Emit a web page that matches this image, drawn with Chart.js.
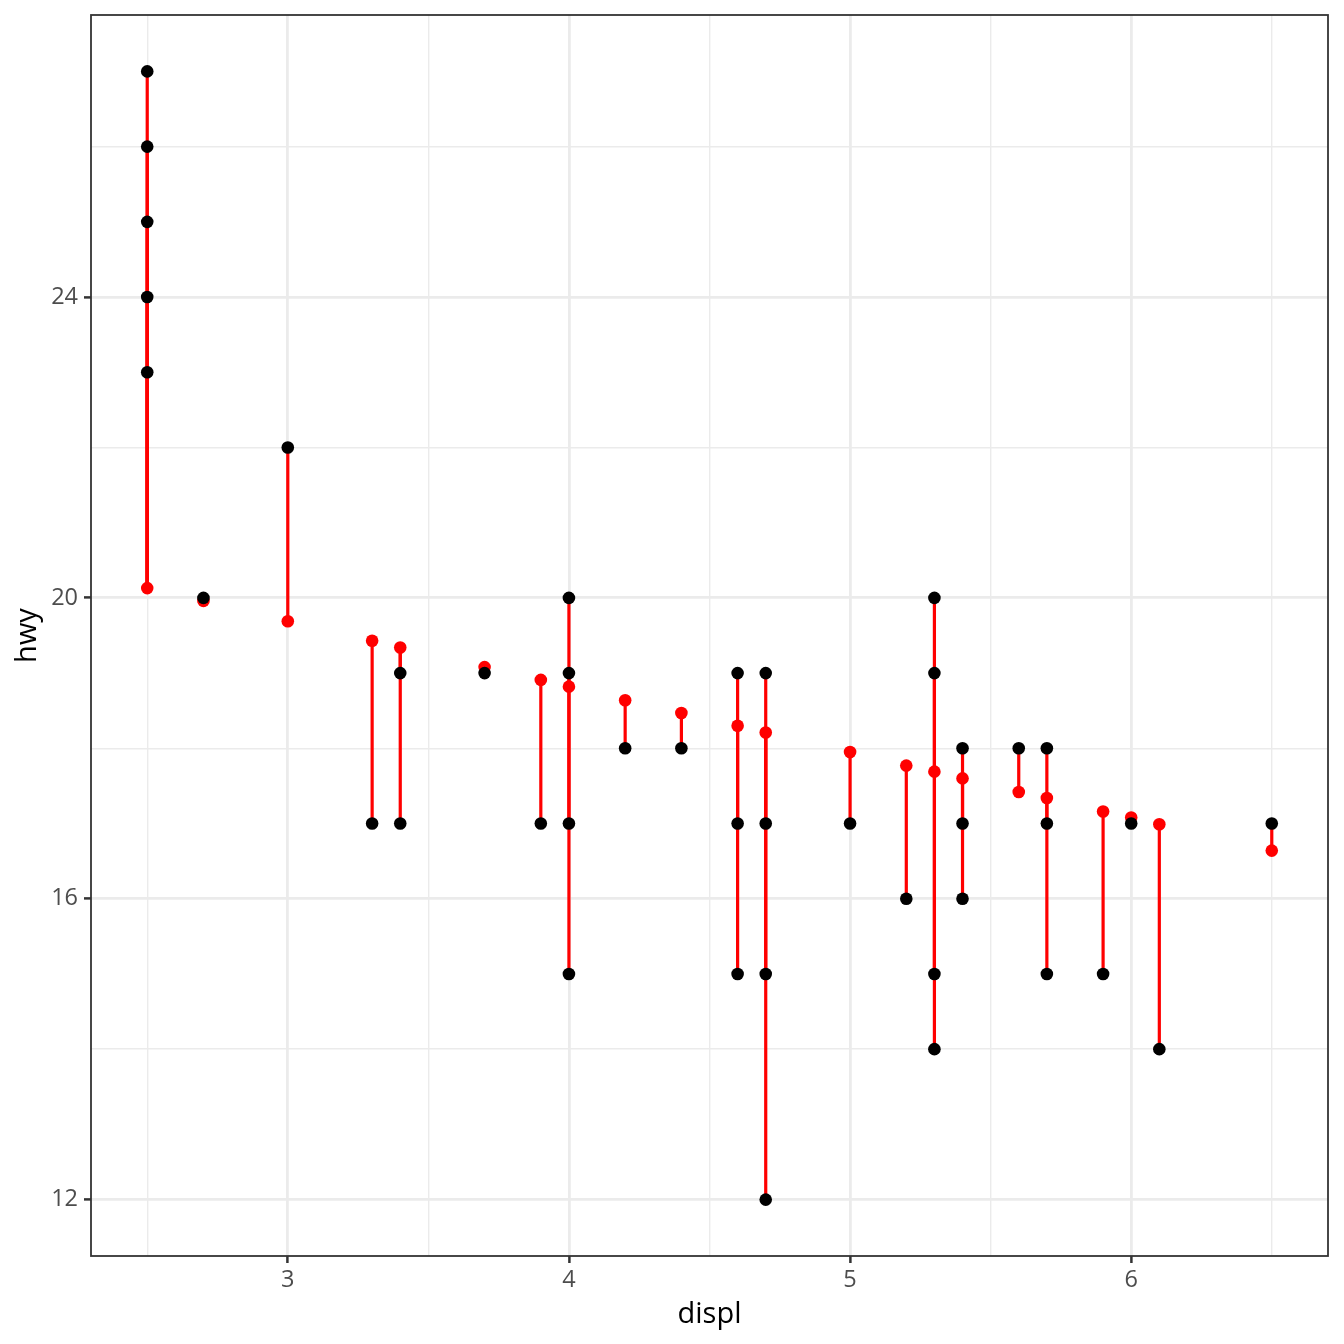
<!DOCTYPE html>
<html>
<head>
<meta charset="utf-8">
<script src="https://cdn.jsdelivr.net/npm/chart.js@4.4.1/dist/chart.umd.min.js"></script>
<style>
  body { margin: 0; background: #fff; }
  #wrap { width: 1344px; height: 1344px; }
</style>
</head>
<body>
<div id="wrap"><canvas id="myChart" width="1344" height="1344"></canvas></div>
<script>
// observed points (engine displacement vs highway mpg)
const displ = [2.5, 2.5, 2.5, 2.5, 2.5, 2.7, 3.0, 3.3, 3.4, 3.4, 3.7, 3.9,
  4.0, 4.0, 4.0, 4.0, 4.2, 4.4, 4.6, 4.6, 4.6, 4.7, 4.7, 4.7, 4.7, 5.0, 5.2,
  5.3, 5.3, 5.3, 5.3, 5.4, 5.4, 5.4, 5.6, 5.7, 5.7, 5.7, 5.9, 6.0, 6.1, 6.5];
const hwy = [27, 26, 25, 24, 23, 20, 22, 17, 19, 17, 19, 17,
  20, 19, 17, 15, 18, 18, 19, 17, 15, 19, 17, 15, 12, 17, 16,
  20, 19, 15, 14, 18, 17, 16, 18, 18, 17, 15, 15, 17, 14, 17];

// fitted values (red) at each distinct displ
const fitDispl = [2.5, 2.7, 3.0, 3.3, 3.4, 3.7, 3.9, 4.0, 4.2, 4.4, 4.6, 4.7,
  5.0, 5.2, 5.3, 5.4, 5.6, 5.7, 5.9, 6.0, 6.1, 6.5];
const fitHwy = [20.13, 19.96, 19.69, 19.43, 19.34, 19.08, 18.91, 18.82, 18.64,
  18.47, 18.30, 18.21, 17.95, 17.77, 17.69, 17.60, 17.42, 17.34, 17.16, 17.08,
  16.99, 16.64];

const xTicks = [2.5, 3, 3.5, 4, 4.5, 5, 5.5, 6, 6.5];
const yTicks = [12, 14, 16, 18, 20, 22, 24, 26];
const xLabels = [3, 4, 5, 6];
const yLabels = [12, 16, 20, 24];

const points = displ.map((d, i) => ({ x: d, y: hwy[i] }));
const fitted = fitDispl.map((d, i) => ({ x: d, y: fitHwy[i] }));

// one red segment per observation, from the point to its fitted value
const segments = displ.map((d, i) => ({
  type: "line",
  data: [{ x: d, y: hwy[i] }, { x: d, y: fitHwy[fitDispl.indexOf(d)] }],
  borderColor: "#FF0000",
  borderWidth: 3.2,
  pointRadius: 0,
  showLine: true,
  fill: false,
  order: 3,
}));

const tickFont = { family: "'Open Sans', 'Noto Sans', sans-serif", size: 23.5 };
const titleFont = { family: "'Open Sans', 'Noto Sans', sans-serif", size: 29 };

function gridStyle(labels) {
  return {
    color: "#EBEBEB",
    lineWidth: (ctx) => (ctx.tick && labels.includes(ctx.tick.value) ? 2.8 : 1.4),
    tickLength: 7,
    tickColor: (ctx) => (ctx.tick && labels.includes(ctx.tick.value) ? "#333333" : "rgba(0,0,0,0)"),
    tickWidth: 2.5,
  };
}

const panelBorder = {
  id: "panelBorder",
  afterDraw(chart) {
    const a = chart.chartArea;
    const c = chart.ctx;
    c.save();
    c.strokeStyle = "#333333";
    c.lineWidth = 1.8;
    c.strokeRect(a.left, a.top, a.right - a.left, a.bottom - a.top);
    c.restore();
  },
};

const ctx = document.getElementById("myChart").getContext("2d");
new Chart(ctx, {
  type: "scatter",
  data: {
    datasets: [
      {
        data: points,
        backgroundColor: "#000000",
        borderWidth: 0,
        pointRadius: 6.3,
        order: 1,
      },
      {
        data: fitted,
        backgroundColor: "#FF0000",
        borderWidth: 0,
        pointRadius: 6.3,
        order: 2,
      },
      ...segments,
    ],
  },
  options: {
    responsive: false,
    animation: false,
    devicePixelRatio: 1,
    layout: { padding: { top: 15, right: 16, left: 0, bottom: 0 } },
    plugins: { legend: { display: false }, tooltip: { enabled: false } },
    scales: {
      x: {
        type: "linear",
        min: 2.3,
        max: 6.7,
        afterBuildTicks: (s) => { s.ticks = xTicks.map((v) => ({ value: v })); },
        afterFit: (s) => { s.height = 88; s.paddingLeft = 0; s.paddingRight = 0; },
        grid: gridStyle(xLabels),
        border: { display: false },
        ticks: {
          autoSkip: false,
          maxRotation: 0,
          padding: 3,
          color: "#4D4D4D",
          font: tickFont,
          callback: (v) => (xLabels.includes(v) ? String(v) : ""),
        },
        title: {
          display: true,
          text: "displ",
          color: "#000000",
          font: titleFont,
          padding: { top: 0, bottom: 12 },
        },
      },
      y: {
        type: "linear",
        min: 11.25,
        max: 27.75,
        afterBuildTicks: (s) => { s.ticks = yTicks.map((v) => ({ value: v })); },
        afterFit: (s) => { s.width = 91; s.paddingTop = 0; s.paddingBottom = 0; },
        grid: gridStyle(yLabels),
        border: { display: false },
        ticks: {
          autoSkip: false,
          padding: 6,
          color: "#4D4D4D",
          font: tickFont,
          callback: (v) => (yLabels.includes(v) ? String(v) : ""),
        },
        title: {
          display: true,
          text: "hwy",
          color: "#000000",
          font: titleFont,
          padding: { top: 10, bottom: 0 },
        },
      },
    },
  },
  plugins: [panelBorder],
});
</script>
</body>
</html>
